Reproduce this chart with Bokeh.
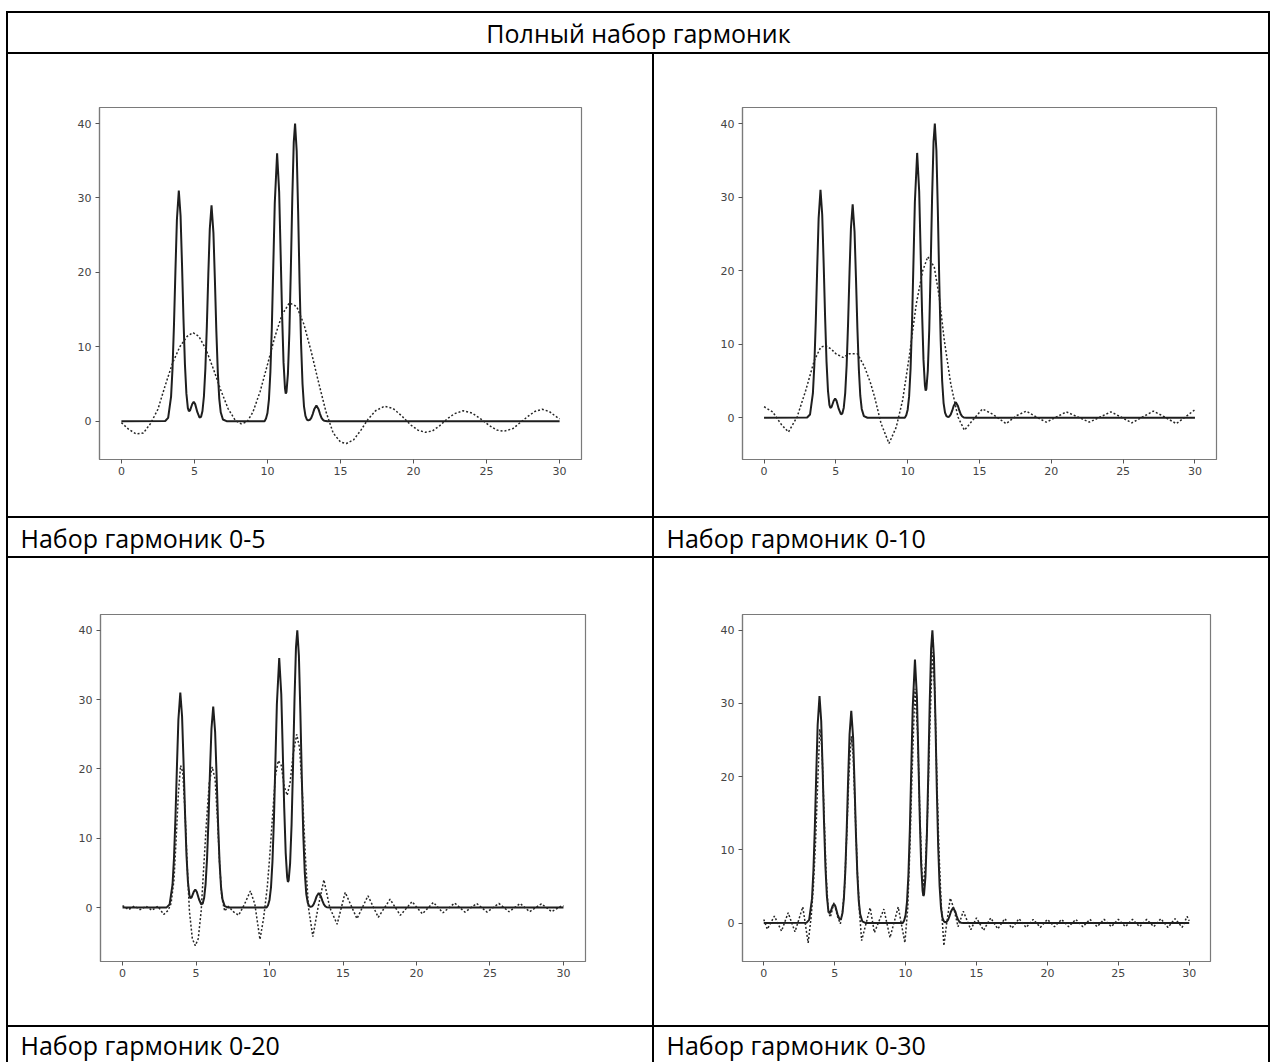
from bokeh.plotting import figure
from bokeh.models import Range1d, FixedTicker, Spacer, Label
from bokeh.layouts import row, column
from bokeh.embed import file_html
from bokeh.resources import INLINE

# ---------------- data ----------------
x_ticks = [0, 5, 10, 15, 20, 25, 30]
y_ticks = [0, 10, 20, 30, 40]

title_text = "Полный набор гармоник"
captions = ["Набор гармоник 0-5", "Набор гармоник 0-10",
            "Набор гармоник 0-20", "Набор гармоник 0-30"]

# original signal (solid line), identical in all four panels
solid_x = [0, 3.0, 3.2, 3.4, 3.5, 3.6, 3.7, 3.8, 3.93, 4.05, 4.15, 4.25, 4.35, 4.45,
           4.55, 4.62, 4.7, 4.85, 4.95, 5.05, 5.2, 5.35, 5.45, 5.55, 5.65, 5.75, 5.85,
           5.95, 6.05, 6.17, 6.3, 6.4, 6.5, 6.6, 6.7, 6.8, 6.95, 7.2, 9.8, 9.9, 10.0,
           10.1, 10.2, 10.3, 10.4, 10.5, 10.66, 10.8, 10.9, 11.0, 11.1, 11.2, 11.25,
           11.3, 11.4, 11.5, 11.6, 11.7, 11.8, 11.89, 12.0, 12.1, 12.2, 12.3, 12.4,
           12.5, 12.6, 12.7, 12.8, 12.9, 13.0, 13.1, 13.2, 13.35, 13.5, 13.6, 13.7,
           13.8, 13.9, 14.1, 30]
solid_y = [0, 0.03, 0.44, 3.3, 7.1, 13.0, 20.3, 27.1, 31.0, 27.6, 21.0, 13.7, 7.6, 3.7,
           1.75, 1.35, 1.46, 2.31, 2.6, 2.29, 1.2, 0.48, 0.57, 1.37, 3.35, 7.1, 12.8,
           19.7, 25.8, 29.0, 25.3, 19.0, 12.1, 6.6, 3.0, 1.2, 0.22, 0, 0, 0.35, 1.1,
           2.9, 6.6, 12.7, 21.0, 29.3, 36.0, 30.8, 22.7, 14.4, 7.9, 4.4, 3.7,
           3.9, 6.35, 11.9, 20.4, 30.0, 37.5, 40.0, 36.3, 28.1, 18.5, 10.4, 5.0,
           2.0, 0.71, 0.22, 0.1, 0.17, 0.45, 0.96, 1.59, 2.1, 1.59, 0.96, 0.45,
           0.17, 0.05, 0, 0]

# harmonics 0-5 (dotted)
h5_x = [0, 0.5, 1.0, 1.5, 2.0, 2.5, 3.0, 3.5, 4.0, 4.5, 4.9, 5.3, 5.8, 6.3, 6.8, 7.3,
        7.8, 8.2, 8.6, 9.0, 9.5, 10.0, 10.5, 11.0, 11.5, 12.0, 12.5, 13.0, 13.5, 14.0,
        14.5, 15.0, 15.4, 15.9, 16.4, 16.9, 17.4, 18.0, 18.6, 19.2, 19.8, 20.3, 20.8,
        21.3, 21.8, 22.3, 22.8, 23.4, 24.0, 24.6, 25.2, 25.7, 26.2, 26.8, 27.3, 27.8,
        28.3, 28.8, 29.3, 29.7, 30.0]
h5_y = [-0.2, -1.1, -1.7, -1.6, -0.3, 1.6, 4.8, 7.8, 10.0, 11.4, 11.9, 11.4, 9.6, 7.0,
        4.2, 1.7, 0.1, -0.35, -0.1, 1.2, 4.0, 7.6, 11.3, 14.3, 15.9, 15.4, 13.0, 9.3,
        5.2, 1.3, -1.6, -2.8, -3.0, -2.5, -1.2, 0.3, 1.4, 2.0, 1.7, 0.7, -0.5, -1.2,
        -1.5, -1.3, -0.6, 0.3, 1.0, 1.4, 1.1, 0.3, -0.6, -1.2, -1.35, -1.0, -0.2, 0.6,
        1.3, 1.6, 1.3, 0.7, 0.3]

# harmonics 0-10 (dotted)
h10_x = [0, 0.6, 1.2, 1.7, 2.3, 2.9, 3.5, 3.95, 4.3, 4.7, 5.0, 5.5, 5.95, 6.5, 7.0, 7.4,
         7.7, 8.15, 8.7, 9.2, 9.65, 10.1, 10.6, 11.05, 11.4, 11.85, 12.2, 12.55, 13.0,
         13.5, 13.95, 14.5, 15.2, 15.9, 16.85, 17.6, 18.25, 18.95, 19.65, 20.35, 21.05,
         21.85, 22.65, 23.4, 24.15, 24.85, 25.6, 26.35, 27.1, 27.9, 28.7, 29.4, 30.0]
h10_y = [1.5, 0.8, -0.9, -1.95, 0.1, 3.7, 7.8, 9.6, 9.8, 9.3, 8.7, 8.2, 8.7, 8.7, 6.9,
         4.8, 2.8, -0.8, -3.5, -1.3, 2.4, 8.2, 15.5, 20.0, 21.9, 20.5, 16.4, 10.5, 4.6,
         0.1, -1.7, -0.4, 1.2, 0.5, -0.8, 0.3, 0.9, 0.1, -0.6, 0.1, 0.8, 0.1, -0.6, 0.1,
         0.8, 0.1, -0.7, 0.1, 0.9, 0.1, -0.8, 0.2, 1.1]

# harmonics 0-20 (dotted)
h20_x = [0, 0.4, 0.8, 1.2, 1.6, 2.0, 2.4, 2.8, 3.1, 3.3, 3.5, 3.65, 3.8, 3.95, 4.1,
         4.25, 4.4, 4.55, 4.75, 4.95, 5.15, 5.35, 5.5, 5.7, 5.9, 6.1, 6.3, 6.45, 6.6,
         6.75, 6.95, 7.2, 7.55, 7.9, 8.3, 8.7, 9.0, 9.35, 9.6, 9.85, 10.0, 10.2, 10.4,
         10.6, 10.8, 11.0, 11.2, 11.4, 11.6, 11.85, 12.05, 12.25, 12.45, 12.65, 12.95,
         13.3, 13.7, 14.1, 14.6, 15.15, 15.95, 16.7, 17.4, 18.2, 18.9, 19.7, 20.4,
         21.15, 21.8, 22.6, 23.3, 24.1, 24.8, 25.6, 26.3, 27.05, 27.7, 28.5, 29.2,
         29.9, 30.0]
h20_y = [0.3, -0.3, 0.2, -0.3, 0.2, -0.4, 0.2, -1.0, -0.4, 0.6, 4.0, 10.0, 16.5, 20.5,
         19.5, 14.0, 6.0, -0.5, -4.5, -5.5, -4.5, -0.5, 5.0, 12.0, 18.0, 20.3, 18.5,
         13.0, 6.5, 1.5, -0.5, 0.2, -0.6, -1.1, 0.5, 2.4, 0.5, -4.6, -1.5, 3.0, 7.0,
         13.0, 19.0, 21.2, 20.5, 17.5, 16.2, 18.0, 22.0, 25.0, 23.0, 16.0, 7.0, 0.0,
         -4.2, 0.0, 4.0, 0.0, -2.4, 2.2, -1.6, 1.7, -1.4, 1.2, -1.1, 0.85, -0.9, 0.75,
         -0.75, 0.65, -0.65, 0.6, -0.65, 0.6, -0.6, 0.6, -0.6, 0.55, -0.6, 0.3, 0.2]

# harmonics 0-30 (dotted)
h30_x = [0, 0.25, 0.75, 1.25, 1.72, 2.2, 2.75, 3.13, 3.35, 3.5, 3.65, 3.8, 3.95, 4.1,
         4.25, 4.4, 4.55, 4.7, 4.95, 5.2, 5.4, 5.55, 5.7, 5.85, 6.0, 6.17, 6.3, 6.45,
         6.6, 6.75, 6.9, 7.5, 7.8, 8.47, 8.9, 9.48, 9.95, 10.15, 10.3, 10.45, 10.66,
         10.85, 11.0, 11.15, 11.25, 11.4, 11.55, 11.7, 11.89, 12.05, 12.2, 12.35, 12.5,
         12.7, 12.9, 13.15, 13.4, 13.7, 14.07, 14.6, 15.0, 15.5, 16.0, 16.5, 17.0, 17.5,
         18.0, 18.5, 19.0, 19.5, 20.0, 20.5, 21.0, 21.5, 22.0, 22.5, 23.0, 23.5, 24.0,
         24.5, 25.0, 25.5, 26.0, 26.5, 27.0, 27.5, 28.0, 28.5, 29.0, 29.5, 29.85, 30.0]
h30_y = [0.5, -0.85, 0.95, -1.1, 1.4, -1.2, 2.2, -2.7, 1.0, 5.0, 11.0, 19.0, 26.5, 24.0,
         15.0, 6.5, 1.5, 0.8, 2.8, 0.9, -0.1, 1.5, 5.0, 12.0, 20.0, 25.5, 23.0, 15.0,
         7.0, 1.5, -2.4, 2.1, -1.3, 1.9, -2.0, 2.2, -2.7, 2.0, 10.0, 20.0, 32.0,
         26.0, 15.0, 7.0, 5.0, 8.0, 15.0, 26.0, 37.0, 32.0, 20.0, 10.0, 3.0,
         -3.1, 0.0, 3.4, 2.0, -0.5, 1.6, -0.9, 0.7, -1.0, 0.7, -0.8, 0.6, -0.7,
         0.6, -0.6, 0.5, -0.6, 0.5, -0.5, 0.5, -0.5, 0.5, -0.5, 0.5, -0.5, 0.5,
         -0.5, 0.5, -0.5, 0.5, -0.5, 0.5, -0.5, 0.6, -0.6, 0.6, -0.6, 0.9, 0.3]

# ---------------- style ----------------
LINE = "#000000"
CAP_FONT = "Open Sans"
CAP_SIZE = "25px"
TICK_FONT = "DejaVu Sans"


def hline(w, h=2):
    return Spacer(width=w, height=h, styles={"background-color": LINE})


def vline(h, w=2):
    return Spacer(width=w, height=h, styles={"background-color": LINE})


def text_cell(w, h, txt, x, align):
    p = figure(width=w, height=h, x_range=Range1d(0, w), y_range=Range1d(0, h),
               min_border=0, toolbar_location=None, output_backend="svg",
               x_axis_location=None, y_axis_location=None)
    p.grid.visible = False
    p.outline_line_color = None
    p.add_layout(Label(x=x, y=h / 2, text=txt, text_align=align,
                       text_baseline="middle", text_font=CAP_FONT,
                       text_font_size=CAP_SIZE, text_color="#000000"))
    return p


def plot_cell(w, h, bl, br, bt, bb, dx, dy):
    ymin = min(min(solid_y), min(dy))
    ymax = max(max(solid_y), max(dy))
    pad = 0.05 * (ymax - ymin)
    p = figure(width=w, height=h, x_range=Range1d(-1.5, 31.5),
               y_range=Range1d(ymin - pad, ymax + pad),
               min_border_left=bl, min_border_right=br, min_border_top=bt,
               min_border_bottom=bb, toolbar_location=None, output_backend="svg")
    p.grid.visible = False
    p.outline_line_color = "#7a7a7a"
    p.outline_line_width = 1.2
    p.line(solid_x, solid_y, line_color="#1e1e1e", line_width=2)
    p.line(dx, dy, line_color="#262626", line_width=1.5, line_dash="2 2")
    p.xaxis.ticker = FixedTicker(ticks=x_ticks)
    p.yaxis.ticker = FixedTicker(ticks=y_ticks)
    for ax in (p.xaxis[0], p.yaxis[0]):
        ax.axis_line_color = "#7a7a7a"
        ax.axis_line_width = 1.2
        ax.major_tick_line_color = "#555555"
        ax.major_tick_out = 4
        ax.major_tick_in = 0
        ax.minor_tick_line_color = None
        ax.major_label_text_font = TICK_FONT
        ax.major_label_text_font_size = "11px"
        ax.major_label_text_color = "#444444"
    p.xaxis.major_label_standoff = 3
    p.yaxis.major_label_standoff = 4
    return p


# ---------------- layout (a bordered table of panels) ----------------
W_MID = 1260
W_L, W_R = 644, 614
H_ROW1, H_ROW2 = 462, 467
H_TITLE, H_CAP1, H_CAP2 = 39, 38, 35

tl = plot_cell(W_L, H_ROW1, 91, 71, 53, 51, h5_x, h5_y)
tr = plot_cell(W_R, H_ROW1, 88, 52, 53, 57, h10_x, h10_y)
bl = plot_cell(W_L, H_ROW2, 92, 67, 56, 50, h20_x, h20_y)
br = plot_cell(W_R, H_ROW2, 88, 58, 55, 64, h30_x, h30_y)

title = text_cell(W_MID, H_TITLE, title_text, W_MID / 2, "center")
cap1 = row(text_cell(W_L, H_CAP1, captions[0], 12, "left"), vline(H_CAP1),
           text_cell(W_R, H_CAP1, captions[1], 12, "left"))
cap2 = row(text_cell(W_L, H_CAP2, captions[2], 12, "left"), vline(H_CAP2),
           text_cell(W_R, H_CAP2, captions[3], 12, "left"))

middle = column(hline(W_MID), title, hline(W_MID),
                row(tl, vline(H_ROW1), tr), hline(W_MID),
                cap1, hline(W_MID),
                row(bl, vline(H_ROW2), br), hline(W_MID),
                cap2)

H_TABLE = 2 + H_TITLE + 2 + H_ROW1 + 2 + H_CAP1 + 2 + H_ROW2 + 2 + H_CAP2
root = column(Spacer(width=1273, height=11),
              row(Spacer(width=6, height=H_TABLE), vline(H_TABLE), middle,
                  vline(H_TABLE), Spacer(width=3, height=H_TABLE)))

open("out.html", "w").write(file_html(root, INLINE))
